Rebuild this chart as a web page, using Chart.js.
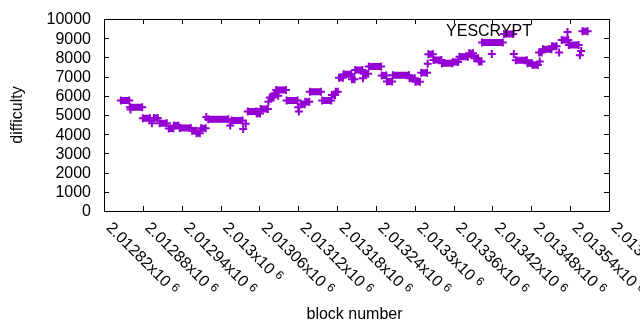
<!DOCTYPE html>
<html>
<head>
<meta charset="utf-8">
<script src="https://cdn.jsdelivr.net/npm/chart.js@4"></script>
<style>
html,body{margin:0;padding:0;background:#fff;}
canvas{display:block;}
</style>
</head>
<body>
<canvas id="c" width="640" height="330"></canvas>
<script>
// Runs of constant difficulty: first block, last block, difficulty
const runStart = [2012846,2012860,2012861,2012880,2012894,2012897,2012906,2012920,2012928,2012937,
  2012956,2012963,2012970,2012978,2012981,2013015,2013017,2013035,2013039,2013042,
  2013056,2013062,2013074,2013076,2013083,2013086,2013089,2013102,2013120,2013121,
  2013124,2013131,2013138,2013157,2013172,2013178,2013183,2013190,2013203,2013208,
  2013220,2013221,2013229,2013249,2013257,2013266,2013292,2013301,2013310,2013320,
  2013321,2013329,2013342,2013359,2013369,2013384,2013392,2013399,2013404,2013419,
  2013438,2013453,2013456,2013474,2013482,2013493,2013492,2013498,2013512,2013523,
  2013527,2013538,2013555,2013557,2013559];
const runEnd = [2012859,2012879,2012861,2012891,2012894,2012903,2012917,2012927,2012935,2012954,
  2012962,2012968,2012977,2012978,2013012,2013015,2013034,2013035,2013039,2013055,
  2013061,2013073,2013074,2013082,2013085,2013101,2013089,2013119,2013120,2013121,
  2013130,2013137,2013155,2013171,2013177,2013181,2013189,2013202,2013207,2013219,
  2013220,2013228,2013248,2013256,2013265,2013291,2013300,2013308,2013319,2013320,
  2013328,2013341,2013358,2013367,2013382,2013390,2013398,2013403,2013436,2013419,
  2013452,2013453,2013473,2013481,2013490,2013493,2013496,2013511,2013519,2013523,
  2013537,2013553,2013555,2013557,2013567];
const difficulty = [5750,5400,5280,4830,4570,4850,4570,4300,4450,4320,
  4180,4050,4310,4900,4780,4450,4710,4270,4550,5180,
  5080,5310,5690,5910,6120,6300,6000,5750,5400,5180,
  5560,5690,6210,5750,6040,6210,6940,7120,6860,7340,
  6910,7150,7530,7060,6750,7070,6910,6730,7200,7670,
  8160,7860,7690,7760,8030,8210,7950,7780,8770,8180,
  9220,8180,7850,7690,7600,7780,8250,8420,8580,8250,
  8900,8650,8110,8330,9360];

const xTicks = [2012820,2012880,2012940,2013000,2013060,2013120,2013180,2013240,2013300,2013360,2013420,2013480,2013540,2013600];
const xTickLabels = ['2.01282','2.01288','2.01294','2.013','2.01306','2.01312','2.01318','2.01324','2.0133','2.01336','2.01342','2.01348','2.01354','2.0136'];
const yTicks = [0,1000,2000,3000,4000,5000,6000,7000,8000,9000,10000];
const seriesName = 'YESCRYPT';
const xTitle = 'block number';
const yTitle = 'difficulty';

const COLOR = '#9400d3';
const FONT = '"Liberation Sans", Arial, sans-serif';

const points = [];
for (let i = 0; i < runStart.length; i++) {
  points.push({x: runStart[i], y: difficulty[i]});
  if (runEnd[i] !== runStart[i]) points.push({x: runEnd[i], y: difficulty[i]});
  points.push({x: runEnd[i], y: null});
}

const decor = {
  id: 'decor',
  afterDatasetsDraw(chart) {
    const ctx = chart.ctx;
    const xs = chart.scales.x, ys = chart.scales.y;
    const a = chart.chartArea;
    ctx.save();
    ctx.strokeStyle = '#000';
    ctx.lineWidth = 1;
    ctx.beginPath();
    ctx.rect(Math.round(a.left) + 0.5, Math.round(a.top) + 0.5, Math.round(a.right - a.left), Math.round(a.bottom - a.top));
    ctx.stroke();
    const tl = 5;
    ctx.beginPath();
    xTicks.forEach(v => {
      const px = Math.round(xs.getPixelForValue(v)) + 0.5;
      ctx.moveTo(px, a.bottom); ctx.lineTo(px, a.bottom - tl);
      ctx.moveTo(px, a.top); ctx.lineTo(px, a.top + tl);
    });
    yTicks.forEach(v => {
      const py = Math.round(ys.getPixelForValue(v)) + 0.5;
      ctx.moveTo(a.left, py); ctx.lineTo(a.left + tl, py);
      ctx.moveTo(a.right, py); ctx.lineTo(a.right - tl, py);
    });
    ctx.stroke();

    ctx.fillStyle = '#000';
    ctx.font = '16px ' + FONT;
    ctx.textAlign = 'right';
    ctx.textBaseline = 'middle';
    yTicks.forEach(v => {
      ctx.fillText(String(v), a.left - 13, ys.getPixelForValue(v) + 1);
    });

    xTicks.forEach((v, i) => {
      const px = xs.getPixelForValue(v);
      ctx.save();
      ctx.translate(px + 4.5, a.bottom + 14.5);
      ctx.rotate(Math.PI / 4);
      ctx.textAlign = 'left';
      ctx.textBaseline = 'middle';
      ctx.font = '16px ' + FONT;
      const main = xTickLabels[i] + 'x10';
      ctx.fillText(main, 0, 0);
      const w = ctx.measureText(main).width;
      ctx.font = '12px ' + FONT;
      ctx.fillText('6', w + 4.5, -3);
      ctx.restore();
    });

    ctx.font = '16px ' + FONT;
    ctx.textAlign = 'center';
    ctx.textBaseline = 'middle';
    ctx.fillText(xTitle, (a.left + a.right) / 2 - 2, 315);
    ctx.save();
    ctx.translate(17.5, 115);
    ctx.rotate(-Math.PI / 2);
    ctx.fillText(yTitle, 0, 0);
    ctx.restore();

    ctx.textAlign = 'right';
    ctx.fillText(chart.data.datasets[0].label, 532, 32);
    ctx.strokeStyle = COLOR;
    ctx.lineWidth = 2;
    ctx.beginPath();
    ctx.moveTo(563.5, 32); ctx.lineTo(571.5, 32);
    ctx.moveTo(567.5, 28); ctx.lineTo(567.5, 36);
    ctx.stroke();
    ctx.restore();
  }
};

new Chart(document.getElementById('c'), {
  type: 'line',
  data: {
    datasets: [{
      label: seriesName,
      data: points,
      borderColor: COLOR,
      backgroundColor: COLOR,
      borderWidth: 7,
      borderCapStyle: 'butt',
      spanGaps: false,
      tension: 0,
      pointStyle: 'cross',
      pointRadius: 4,
      pointBorderWidth: 2,
      pointBorderColor: COLOR,
      pointHoverRadius: 4
    }]
  },
  options: {
    responsive: false,
    animation: false,
    events: [],
    layout: { padding: { left: 104, right: 31, top: 19, bottom: 119 } },
    plugins: { legend: { display: false }, tooltip: { enabled: false } },
    scales: {
      x: { type: 'linear', min: 2012820, max: 2013600, display: false },
      y: { type: 'linear', min: 0, max: 10000, display: false }
    }
  },
  plugins: [decor]
});
</script>
</body>
</html>
